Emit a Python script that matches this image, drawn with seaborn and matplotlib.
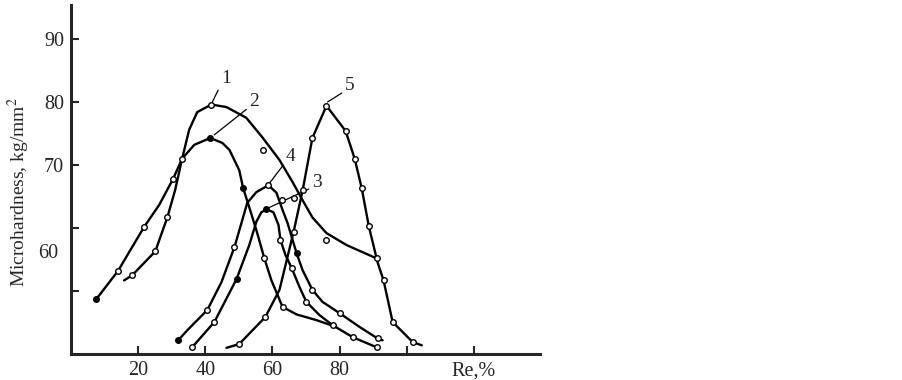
import matplotlib
matplotlib.use("Agg")
import matplotlib.pyplot as plt
import seaborn as sns
import pandas as pd

# curve traces (Re %, microhardness kg/mm2)
c1_x = [15.8, 18.2, 25.1, 28.7, 31.0, 33.1, 35.2, 37.6, 41.8, 46.3, 52.2, 57.0, 62.1, 66.0, 69.0, 71.9, 76.1, 82.1, 91.0]
c1_y = [51.7, 52.5, 56.3, 61.7, 66.0, 71.0, 75.6, 78.4, 79.6, 79.2, 77.5, 74.4, 70.8, 67.3, 64.4, 61.7, 59.2, 57.3, 55.2]
c2_x = [7.5, 14.0, 21.8, 26.3, 30.4, 33.1, 36.7, 41.5, 45.1, 47.2, 50.1, 51.3, 53.1, 55.2, 57.6, 59.7, 61.2, 63.0, 67.2, 73.1, 78.5]
c2_y = [48.7, 53.2, 60.2, 63.7, 67.8, 71.0, 73.2, 74.3, 73.5, 72.4, 69.2, 66.3, 63.3, 59.7, 55.2, 51.7, 49.8, 47.5, 46.3, 45.4, 44.4]
c3_x = [36.1, 42.7, 49.3, 53.1, 55.2, 56.7, 58.2, 60.3, 61.8, 62.4, 63.9, 65.7, 68.1, 70.1, 74.0, 77.9, 83.9, 91.0]
c3_y = [41.1, 45.1, 51.9, 57.3, 61.0, 62.5, 63.0, 62.5, 60.5, 58.1, 55.7, 53.7, 50.6, 48.3, 46.2, 44.6, 42.7, 41.1]
c4_x = [31.9, 35.2, 40.6, 44.8, 48.7, 52.5, 55.2, 58.8, 61.2, 63.0, 64.5, 67.2, 69.0, 71.9, 74.9, 80.0, 86.0, 91.3, 92.8]
c4_y = [42.2, 44.1, 47.0, 51.4, 57.0, 64.0, 65.7, 66.8, 65.6, 62.9, 60.8, 56.0, 53.3, 50.2, 48.3, 46.5, 44.3, 42.5, 42.2]
c5_x = [46.3, 50.1, 57.9, 62.1, 66.3, 69.0, 71.9, 76.1, 81.8, 84.5, 86.6, 88.7, 91.3, 93.1, 95.8, 101.8, 104.5]
c5_y = [41.0, 41.6, 45.9, 50.2, 59.4, 66.0, 74.3, 79.4, 75.4, 71.0, 66.3, 60.3, 54.6, 51.7, 45.1, 41.9, 41.4]

# measured points (open circles)
m_open_x = [18.2, 25.1, 28.7, 33.1, 41.8, 57.3, 76.1, 91.0,
            14.0, 21.8, 30.4, 57.6, 63.0,
            36.1, 42.7, 62.4, 65.7, 70.1, 77.9, 83.9, 91.0,
            40.6, 48.7, 58.8, 71.9, 80.0, 91.3, 62.7, 66.3,
            50.1, 57.9, 66.3, 69.0, 71.9, 76.1, 81.8, 84.5, 86.6, 88.7, 93.1, 95.8, 101.8]
m_open_y = [52.5, 56.3, 61.7, 71.0, 79.6, 72.4, 58.1, 55.2,
            53.2, 60.2, 67.8, 55.2, 47.5,
            41.1, 45.1, 58.1, 53.7, 48.3, 44.6, 42.7, 41.1,
            47.0, 57.0, 66.8, 50.2, 46.5, 42.5, 64.4, 64.8,
            41.6, 45.9, 59.4, 66.0, 74.3, 79.4, 75.4, 71.0, 66.3, 60.3, 51.7, 45.1, 41.9]
# filled points
m_fill_x = [7.5, 41.5, 51.3, 49.3, 58.2, 31.9, 67.2]
m_fill_y = [48.7, 74.3, 66.3, 51.9, 63.0, 42.2, 56.0]

x_ticks = [20, 40, 60, 80, 100, 120]
x_labels = ["20", "40", "60", "80", "", "Re,%"]
y_ticks = [50, 60, 70, 80, 90]
y_labels = ["", "", "70", "80", "90"]

sns.set_style("ticks")
plt.rcParams['font.family'] = ['Liberation Serif', 'DejaVu Serif']
plt.rcParams['mathtext.fontset'] = 'stix'

fig = plt.figure(figsize=(9.02, 3.80), dpi=100)
ax = fig.add_axes([0.0787, 0.068, 0.52, 0.919])

curves = [(c1_x, c1_y), (c2_x, c2_y), (c3_x, c3_y), (c4_x, c4_y), (c5_x, c5_y)]
for i, (cx, cy) in enumerate(curves):
    d = pd.DataFrame({"x": cx, "y": cy})
    sns.lineplot(data=d, x="x", y="y", sort=False, estimator=None,
                 color="black", linewidth=1.7, ax=ax)

op = pd.DataFrame({"x": m_open_x, "y": m_open_y})
sns.scatterplot(data=op, x="x", y="y", marker="o", s=16, facecolor="white",
                edgecolor="black", linewidth=1.0, ax=ax, zorder=5)
fl = pd.DataFrame({"x": m_fill_x, "y": m_fill_y})
sns.scatterplot(data=fl, x="x", y="y", marker="o", s=16, color="black",
                edgecolor="black", linewidth=1.0, ax=ax, zorder=5)

# curve numbers with leader lines
labels = [("1", (42.1, 80.0), (44.8, 82.4)),
          ("2", (42.7, 74.8), (53.2, 78.7)),
          ("4", (59.1, 67.1), (64.0, 70.0)),
          ("3", (58.8, 63.2), (71.8, 65.9)),
          ("5", (76.4, 80.0), (81.6, 81.2))]
for txt, p0, p1 in labels:
    ax.annotate(txt, xy=p0, xytext=p1, fontsize=14, ha="left", va="bottom",
                arrowprops=dict(arrowstyle="-", color="black", lw=0.9,
                                shrinkA=0, shrinkB=0,
                                relpos=(0, 0.2)))

ax.set_xlim(0, 139.7)
ax.set_ylim(40, 95.4)
ax.set_xticks(x_ticks, x_labels)
ax.set_yticks(y_ticks, y_labels)
ax.set_yticks([56.3], ["60"], minor=True)
ax.tick_params(axis="both", which="major", direction="in", length=6, width=1.5,
               labelsize=14.5, pad=5)
ax.tick_params(axis="y", which="minor", length=0, labelsize=14.5, pad=9)
ax.set_xlabel("")
ax.set_ylabel("Microhardness, kg/mm$^2$", fontsize=14)
ax.yaxis.set_label_coords(-0.083, 0.465)

for s in ["top", "right"]:
    ax.spines[s].set_visible(False)
for s in ["left", "bottom"]:
    ax.spines[s].set_linewidth(2.2)

fig.savefig("out.png", dpi=100)
